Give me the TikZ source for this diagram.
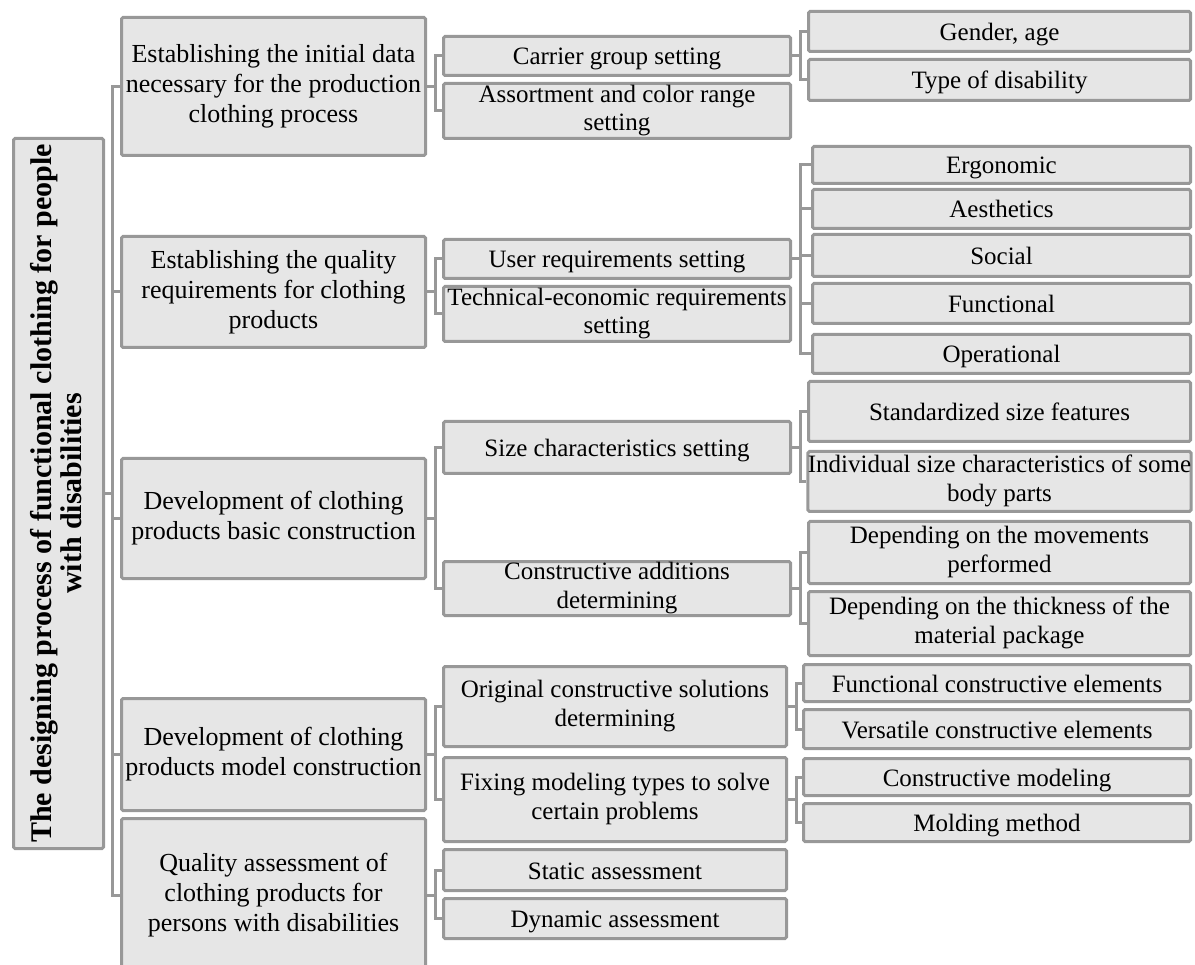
\documentclass[tikz,border=0pt]{standalone}
\usepackage{fontspec}
\setmainfont{Liberation Serif}
\usetikzlibrary{positioning}
\definecolor{boxfill}{RGB}{230,230,230}
\definecolor{boxline}{RGB}{152,152,152}

\tikzset{
  box/.style={draw=boxline, fill=boxfill, line width=3pt, rounded corners=1.5pt, align=center, inner sep=0pt, anchor=north west, font=\fontsize{25}{29}\selectfont,
    execute at begin node={\rule{0pt}{24pt}}, execute at end node={\rule[-6pt]{0pt}{0pt}}},
  first_level/.style={box, minimum width=304pt, font=\fontsize{26}{30}\selectfont},
  second_level/.style={box, minimum width=347pt, font=\fontsize{25}{28.5}\selectfont},
  third_level/.style={box, minimum width=382pt},
  link/.style={draw=boxline, line width=3pt},
}

\begin{document}
\begin{tikzpicture}[x=1pt, y=-1pt]
\useasboundingbox (0,0) rectangle (1195,965);
\clip (0,0) rectangle (1195,965);

% root
\node (root) [box, anchor=center, rotate=90, minimum width=710pt, minimum height=90pt, font=\bfseries\fontsize{30}{30}\selectfont] at (58.5,493.5) {The designing process of functional clothing for people\\with disabilities};

% first level
\node (initial_data) [first_level, minimum height=138pt] at (120,16) {Establishing the initial data\\necessary for the production\\clothing process};
\node (quality_req) [first_level, minimum height=111pt] at (120,235) {Establishing the quality\\requirements for clothing\\products};
\node (basic_constr) [first_level, minimum height=120pt] at (120,457) {Development of clothing\\products basic construction};
\node (model_constr) [first_level, minimum height=112pt] at (120,697) {Development of clothing\\products model construction};
\node (quality_assess) [first_level, minimum height=153pt, below=5pt of model_constr] {Quality assessment of\\clothing products for\\persons with disabilities};

% second level
\node (carrier_group) [second_level, minimum height=39pt] at (442,35) {Carrier group setting};
\node (assortment) [second_level, minimum height=55pt, below=5pt of carrier_group] {Assortment and color range\\setting};
\node (user_req) [second_level, minimum height=39pt] at (442,238) {User requirements setting};
\node (tech_econ) [second_level, minimum height=55pt, below=5pt of user_req] {Technical-economic requirements\\setting};
\node (size_char) [second_level, minimum height=52pt] at (442,420) {Size characteristics setting};
\node (additions) [second_level, minimum height=54pt] at (442,560) {Constructive additions\\determining};
\node (solutions) [second_level, minimum width=343pt, minimum height=80pt] at (442,665) {Original constructive solutions\\determining};
\node (modeling_types) [second_level, minimum width=343pt, minimum height=84pt, below=8pt of solutions] {Fixing modeling types to solve\\certain problems};
\node (static_assess) [second_level, minimum width=343pt, minimum height=41pt, below=5pt of modeling_types] {Static assessment};
\node (dynamic_assess) [second_level, minimum width=343pt, minimum height=40pt, below=5pt of static_assess] {Dynamic assessment};

% third level
\node (gender_age) [third_level, minimum height=40pt] at (807,10) {Gender, age};
\node (disability) [third_level, minimum height=41pt, below=5pt of gender_age] {Type of disability};
\node (ergonomic) [third_level, minimum width=378pt, minimum height=37pt] at (811,145) {Ergonomic};
\node (aesthetics) [third_level, minimum width=378pt, minimum height=39pt, below=3pt of ergonomic] {Aesthetics};
\node (social) [third_level, minimum width=378pt, minimum height=42pt, below=3pt of aesthetics] {Social};
\node (functional) [third_level, minimum width=378pt, minimum height=40pt, below=4pt of social] {Functional};
\node (operational) [third_level, minimum width=378pt, minimum height=39pt, below=8pt of functional] {Operational};
\node (standard_size) [third_level, minimum height=60pt] at (807,380) {Standardized size features};
\node (individual_size) [third_level, minimum height=60pt, below=7pt of standard_size] {Individual size characteristics of some\\body parts};
\node (movements) [third_level, minimum height=62pt, below=7pt of individual_size] {Depending on the movements\\performed};
\node (thickness) [third_level, minimum height=64pt, below=5pt of movements] {Depending on the thickness of the\\material package};
\node (functional_el) [third_level, minimum width=387pt, minimum height=37pt] at (802,663) {Functional constructive elements};
\node (versatile_el) [third_level, minimum width=387pt, minimum height=39pt, below=5pt of functional_el] {Versatile constructive elements};
\node (constr_modeling) [third_level, minimum width=387pt, minimum height=37pt, below=7pt of versatile_el] {Constructive modeling};
\node (molding) [third_level, minimum width=387pt, minimum height=38pt, below=5pt of constr_modeling] {Molding method};

% connectors
\draw[link] (root.south) -- ++(7,0) |- (initial_data.west);
\draw[link] (root.south) -- ++(7,0) |- (quality_req.west);
\draw[link] (root.south) -- ++(7,0) |- (basic_constr.west);
\draw[link] (root.south) -- ++(7,0) |- (model_constr.west);
\draw[link] (root.south) -- ++(7,0) |- (quality_assess.west);

\draw[link] (initial_data.east) -- ++(8,0) |- (carrier_group.west);
\draw[link] (initial_data.east) -- ++(8,0) |- (assortment.west);
\draw[link] (quality_req.east) -- ++(8,0) |- (user_req.west);
\draw[link] (quality_req.east) -- ++(8,0) |- (tech_econ.west);
\draw[link] (basic_constr.east) -- ++(8,0) |- (size_char.west);
\draw[link] (basic_constr.east) -- ++(8,0) |- (additions.west);
\draw[link] (model_constr.east) -- ++(8,0) |- (solutions.west);
\draw[link] (model_constr.east) -- ++(8,0) |- (modeling_types.west);
\draw[link] (quality_assess.east) -- ++(8,0) |- (static_assess.west);
\draw[link] (quality_assess.east) -- ++(8,0) |- (dynamic_assess.west);

\draw[link] (carrier_group.east) -- ++(8,0) |- (gender_age.west);
\draw[link] (carrier_group.east) -- ++(8,0) |- (disability.west);
\draw[link] (user_req.east) -- ++(8,0) |- (ergonomic.west);
\draw[link] (user_req.east) -- ++(8,0) |- (aesthetics.west);
\draw[link] (user_req.east) -- ++(8,0) |- (social.west);
\draw[link] (user_req.east) -- ++(8,0) |- (functional.west);
\draw[link] (user_req.east) -- ++(8,0) |- (operational.west);
\draw[link] (size_char.east) -- ++(8,0) |- (standard_size.west);
\draw[link] (size_char.east) -- ++(8,0) |- (individual_size.west);
\draw[link] (additions.east) -- ++(8,0) |- (movements.west);
\draw[link] (additions.east) -- ++(8,0) |- (thickness.west);
\draw[link] (solutions.east) -- ++(8,0) |- (functional_el.west);
\draw[link] (solutions.east) -- ++(8,0) |- (versatile_el.west);
\draw[link] (modeling_types.east) -- ++(8,0) |- (constr_modeling.west);
\draw[link] (modeling_types.east) -- ++(8,0) |- (molding.west);
\end{tikzpicture}
\end{document}
